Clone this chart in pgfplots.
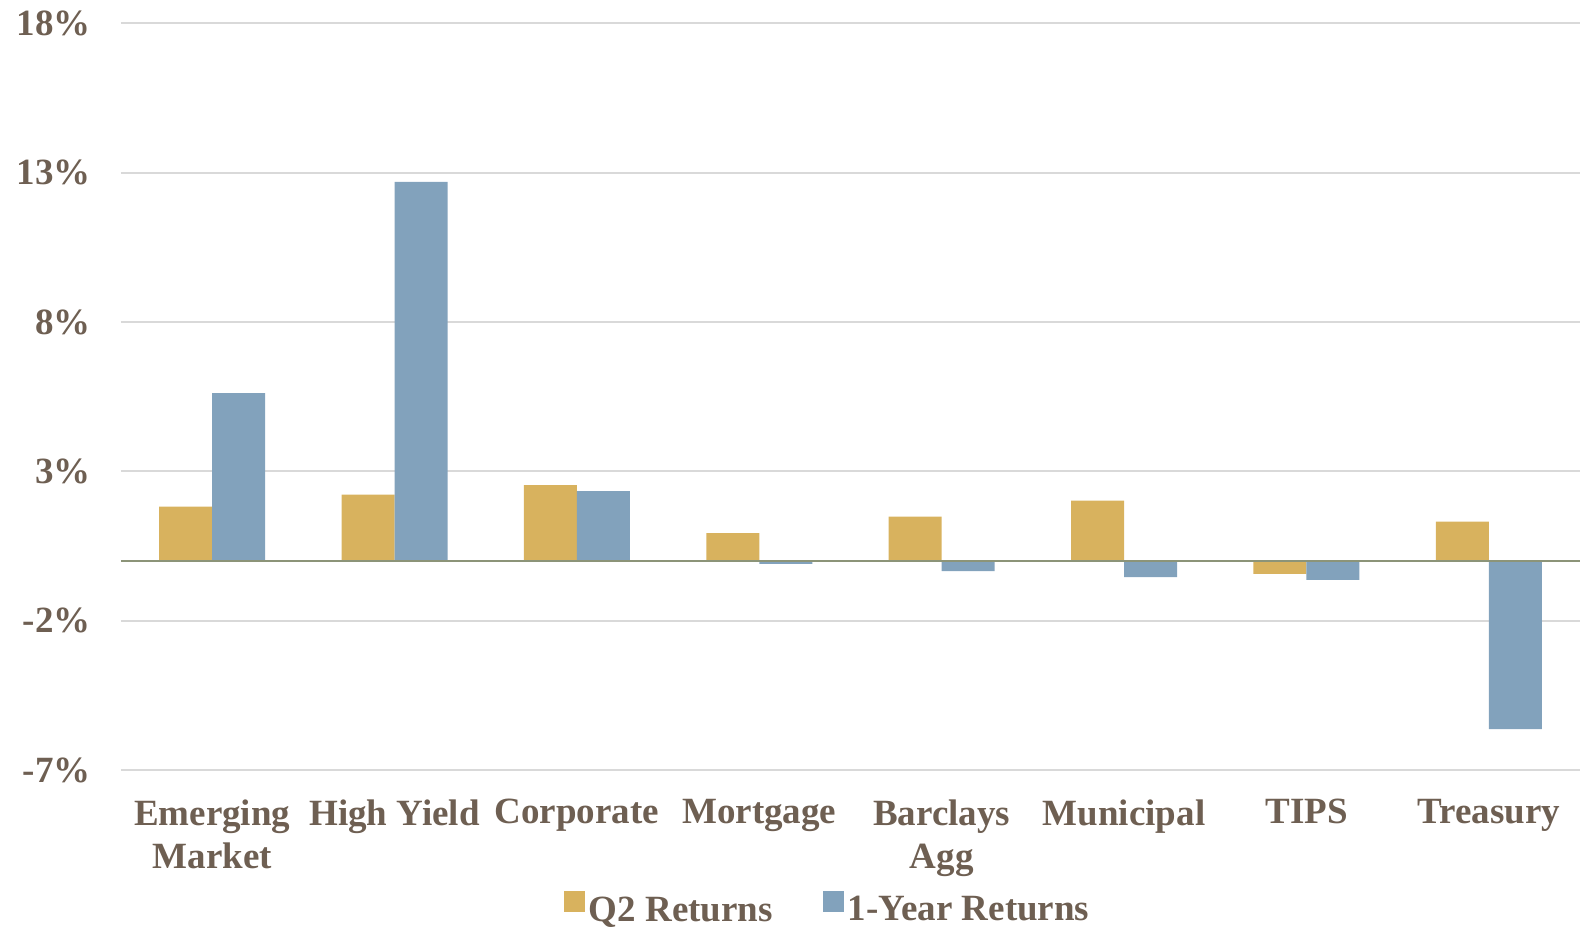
\documentclass[border=0pt]{standalone}
\usepackage{fontspec}
\setmainfont{Liberation Serif}
\usepackage{pgfplots}
\pgfplotsset{compat=1.18}

\definecolor{qgold}{RGB}{216,178,94}
\definecolor{ysteel}{RGB}{130,162,188}
\definecolor{txt}{RGB}{110,95,82}
\definecolor{gridgray}{RGB}{217,217,217}
\definecolor{zeroline}{RGB}{140,148,120}

\newcommand{\lblfont}{\fontsize{18.5}{21.7}\selectfont\bfseries}

\begin{document}
\begin{tikzpicture}
\begin{axis}[
  scale only axis,
  width=729.5pt, height=373.35pt,
  xmin=-0.5, xmax=7.5,
  ymin=-7, ymax=18,
  ybar=0pt, bar width=26.5pt,
  axis line style={draw=none},
  major tick length=0pt,
  xtick={0,...,7},
  xticklabels={Emerging\\Market, High Yield, Corporate, Mortgage, Barclays\\Agg, Municipal, TIPS, Treasury},
  ytick={-7,-2,3,8,13,18},
  yticklabel={\pgfmathprintnumber{\tick}\%},
  /pgf/number format/assume math mode=true,
  ymajorgrids,
  major grid style={gridgray, line width=0.9pt},
  tick label style={text=txt, font=\lblfont},
  xticklabel style={align=center, anchor=north, inner sep=0pt, yshift=-14.5pt},
  yticklabel style={anchor=east, inner sep=0pt, xshift=-15pt},
  legend style={draw=none, fill=none, text=txt, font=\lblfont,
    at={(0.485,-0.187)}, anchor=center, legend columns=2,
    /tikz/every even column/.append style={column sep=23pt},
    inner sep=0pt},
  legend cell align=left,
]
\addplot[fill=qgold, draw=none,
  legend image code/.code={\fill[qgold] (0pt,-1pt) rectangle (10.5pt,9.5pt);}]
  coordinates {(0,1.82) (1,2.22) (2,2.54) (3,0.93) (4,1.48) (5,2.02) (6,-0.43) (7,1.32)};
\addplot[fill=ysteel, draw=none,
  legend image code/.code={\fill[ysteel] (0pt,-1pt) rectangle (10.5pt,9.5pt);}]
  coordinates {(0,5.62) (1,12.69) (2,2.34) (3,-0.10) (4,-0.34) (5,-0.54) (6,-0.63) (7,-5.63)};
\legend{Q2 Returns, 1-Year Returns}
\draw[zeroline, line width=1.1pt] (axis cs:-0.5,0) -- (axis cs:7.5,0);
\end{axis}
\pgfresetboundingbox
\path (current axis.south west) ++(-60.5pt,-78.5pt) coordinate (bbsw);
\path (current axis.north east) ++(0pt,11.65pt) coordinate (bbne);
\path (bbsw) rectangle (bbne);
\end{tikzpicture}
\end{document}
